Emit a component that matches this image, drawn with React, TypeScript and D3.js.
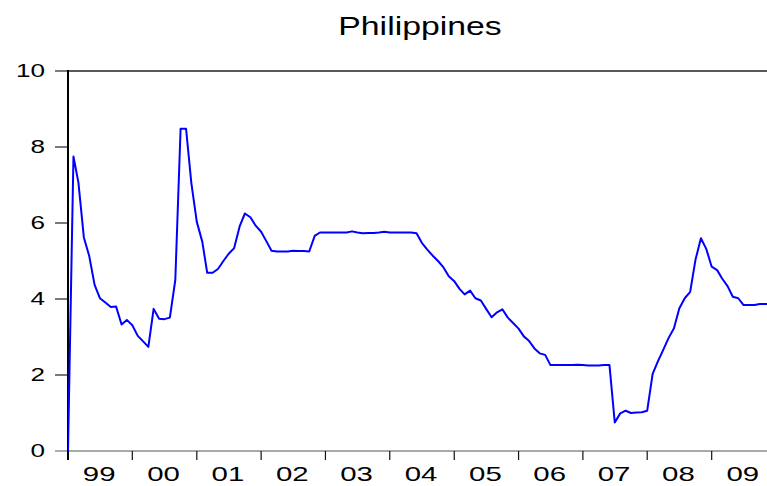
import React, { Component } from "react";
import * as d3 from "d3";

// monthly values, Jan 1999 .. Dec 2009
const values1999 = [0, 7.75, 7.07, 5.62, 5.14, 4.37, 4.02, 3.91, 3.79, 3.8, 3.33, 3.45];
const values2000 = [3.31, 3.03, 2.89, 2.74, 3.74, 3.48, 3.47, 3.51, 4.5, 8.48, 8.48, 7.05];
const values2001 = [6.03, 5.51, 4.69, 4.69, 4.79, 5.0, 5.19, 5.34, 5.91, 6.25, 6.15, 5.93];
const values2002 = [5.77, 5.51, 5.27, 5.25, 5.25, 5.25, 5.27, 5.26, 5.26, 5.25, 5.66, 5.75];
const values2003 = [5.75, 5.75, 5.75, 5.75, 5.75, 5.78, 5.75, 5.73, 5.74, 5.74, 5.75, 5.77];
const values2004 = [5.75, 5.75, 5.75, 5.75, 5.75, 5.73, 5.48, 5.3, 5.14, 5.0, 4.83, 4.6];
const values2005 = [4.47, 4.26, 4.12, 4.22, 4.02, 3.96, 3.74, 3.52, 3.65, 3.73, 3.51, 3.37];
const values2006 = [3.22, 3.01, 2.9, 2.7, 2.57, 2.53, 2.26, 2.26, 2.26, 2.26, 2.26, 2.27];
const values2007 = [2.26, 2.25, 2.25, 2.25, 2.26, 2.26, 0.75, 0.99, 1.06, 1.0, 1.01, 1.02];
const values2008 = [1.06, 2.03, 2.35, 2.66, 2.97, 3.23, 3.75, 4.02, 4.19, 5.03, 5.6, 5.32];
const values2009 = [4.85, 4.76, 4.54, 4.34, 4.06, 4.02, 3.84, 3.84, 3.84, 3.87, 3.87, 3.87];

const series = [
  ...values1999, ...values2000, ...values2001, ...values2002,
  ...values2003, ...values2004, ...values2005, ...values2006,
  ...values2007, ...values2008, ...values2009,
];

const yearLabels = ["99", "00", "01", "02", "03", "04", "05", "06", "07", "08", "09"];
const yTicks = [0, 2, 4, 6, 8, 10];
const title = "Philippines";

const FONT = "'Liberation Sans', Arial, Helvetica, sans-serif";

class App extends Component {
  body: React.RefObject<HTMLDivElement | null>;
  width: number;
  height: number;
  left: number;
  right: number;
  top: number;
  bottom: number;

  constructor(props: any) {
    super(props);
    this.body = React.createRef();
    this.width = 767;
    this.height = 486;
    this.left = 68;
    this.right = 776;
    this.top = 71;
    this.bottom = 451;
  }

  componentDidMount() {
    const node = this.body.current;
    if (!node) return;
    d3.select(node).selectAll("*").remove();

    const start = new Date(Date.UTC(1999, 0, 1));
    const end = new Date(Date.UTC(2010, 0, 1));
    const dates = series.map((_, i) => new Date(Date.UTC(1999, i, 1)));

    const xScale = d3.scaleUtc().domain([start, end]).range([this.left, this.right]);
    const yScale = d3.scaleLinear().domain([0, 10]).range([this.bottom, this.top]);

    const svg = d3
      .select(node)
      .append("svg")
      .attr("width", this.width)
      .attr("height", this.height)
      .style("position", "absolute")
      .style("left", "0px")
      .style("top", "0px")
      .style("background", "#fff");

    // title
    svg
      .append("text")
      .attr("transform", "translate(420,35) scale(1.3,1)")
      .attr("text-anchor", "middle")
      .style("font-family", FONT)
      .style("font-size", "26px")
      .attr("fill", "#000")
      .text(title);

    svg
      .append("defs")
      .append("clipPath")
      .attr("id", "plot-clip")
      .append("rect")
      .attr("x", this.left)
      .attr("y", this.top - 2)
      .attr("width", this.right - this.left)
      .attr("height", this.bottom - this.top + 4);

    // frame top
    svg
      .append("line")
      .attr("x1", this.left)
      .attr("x2", this.right)
      .attr("y1", this.top)
      .attr("y2", this.top)
      .attr("stroke", "#222")
      .attr("stroke-width", 1.5);

    // bottom axis
    svg
      .append("line")
      .attr("x1", this.left)
      .attr("x2", this.right)
      .attr("y1", this.bottom)
      .attr("y2", this.bottom)
      .attr("stroke", "#555")
      .attr("stroke-width", 1.2);

    const yearTicks = d3.utcYear.range(start, end);
    svg
      .append("g")
      .selectAll("line")
      .data(yearTicks)
      .enter()
      .append("line")
      .attr("x1", d => xScale(d))
      .attr("x2", d => xScale(d))
      .attr("y1", this.bottom)
      .attr("y2", this.bottom + 9)
      .attr("stroke", "#111")
      .attr("stroke-width", 1.2);

    svg
      .append("g")
      .selectAll("text")
      .data(yearTicks)
      .enter()
      .append("text")
      .attr("transform", (d, i) => {
        const mid = (xScale(d) + xScale(d3.utcYear.offset(d, 1))) / 2;
        return "translate(" + (mid - 1) + "," + (this.bottom + 30) + ") scale(1.4,1)";
      })
      .attr("text-anchor", "middle")
      .style("font-family", FONT)
      .style("font-size", "21px")
      .attr("fill", "#000")
      .text((d, i) => yearLabels[i]);

    // y axis
    svg
      .append("g")
      .selectAll("line")
      .data(yTicks)
      .enter()
      .append("line")
      .attr("x1", this.left - 13)
      .attr("x2", this.left)
      .attr("y1", d => yScale(d))
      .attr("y2", d => yScale(d))
      .attr("stroke", d => (d === 0 ? "#777" : "#222"))
      .attr("stroke-width", 1.2);

    svg
      .append("g")
      .selectAll("text")
      .data(yTicks)
      .enter()
      .append("text")
      .attr("transform", d => "translate(45," + (yScale(d) + 6) + ") scale(1.45,1)")
      .attr("text-anchor", "end")
      .style("font-family", FONT)
      .style("font-size", "18px")
      .attr("fill", "#000")
      .text(d => String(d));

    svg
      .append("line")
      .attr("x1", this.left)
      .attr("x2", this.left)
      .attr("y1", this.top - 1)
      .attr("y2", this.bottom + 9)
      .attr("stroke", "#000")
      .attr("stroke-width", 2);

    // the series
    const line = d3
      .line<number>()
      .x((d, i) => xScale(dates[i]))
      .y(d => yScale(d));

    svg
      .append("path")
      .attr("d", line(series))
      .attr("clip-path", "url(#plot-clip)")
      .attr("fill", "none")
      .attr("stroke", "#0000ff")
      .attr("stroke-width", 2)
      .attr("stroke-linejoin", "round");
  }

  render() {
    return <div ref={this.body} />;
  }
}

export default App;
